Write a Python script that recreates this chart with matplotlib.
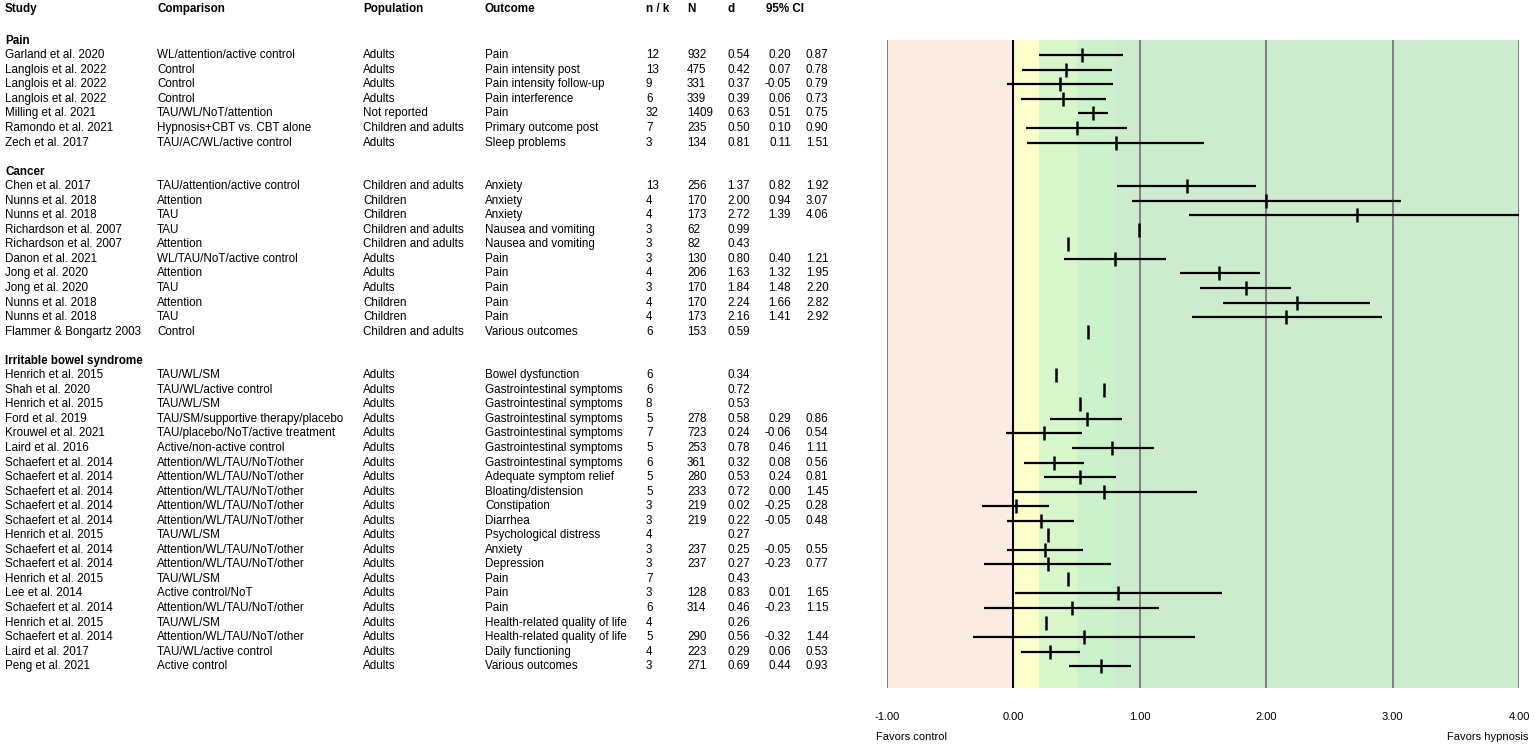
import matplotlib
matplotlib.use("Agg")
import matplotlib.pyplot as plt
import matplotlib.transforms as mtransforms

plt.rcParams.update({
    "font.family": ["Liberation Sans", "DejaVu Sans"],
    "font.size": 8.4,
})

# ---- data -------------------------------------------------------------
sections = ["Pain", "Cancer", "Irritable bowel syndrome"]

pain_rows = [
    ("Garland et al. 2020", "WL/attention/active control", "Adults", "Pain", 12, 932, 0.54, 0.20, 0.87),
    ("Langlois et al. 2022", "Control", "Adults", "Pain intensity post", 13, 475, 0.42, 0.07, 0.78),
    ("Langlois et al. 2022", "Control", "Adults", "Pain intensity follow-up", 9, 331, 0.37, -0.05, 0.79),
    ("Langlois et al. 2022", "Control", "Adults", "Pain interference", 6, 339, 0.39, 0.06, 0.73),
    ("Milling et al. 2021", "TAU/WL/NoT/attention", "Not reported", "Pain", 32, 1409, 0.63, 0.51, 0.75),
    ("Ramondo et al. 2021", "Hypnosis+CBT vs. CBT alone", "Children and adults", "Primary outcome post", 7, 235, 0.50, 0.10, 0.90),
    ("Zech et al. 2017", "TAU/AC/WL/active control", "Adults", "Sleep problems", 3, 134, 0.81, 0.11, 1.51),
]

cancer_rows = [
    ("Chen et al. 2017", "TAU/attention/active control", "Children and adults", "Anxiety", 13, 256, 1.37, 0.82, 1.92),
    ("Nunns et al. 2018", "Attention", "Children", "Anxiety", 4, 170, 2.00, 0.94, 3.07),
    ("Nunns et al. 2018", "TAU", "Children", "Anxiety", 4, 173, 2.72, 1.39, 4.06),
    ("Richardson et al. 2007", "TAU", "Children and adults", "Nausea and vomiting", 3, 62, 0.99, None, None),
    ("Richardson et al. 2007", "Attention", "Children and adults", "Nausea and vomiting", 3, 82, 0.43, None, None),
    ("Danon et al. 2021", "WL/TAU/NoT/active control", "Adults", "Pain", 3, 130, 0.80, 0.40, 1.21),
    ("Jong et al. 2020", "Attention", "Adults", "Pain", 4, 206, 1.63, 1.32, 1.95),
    ("Jong et al. 2020", "TAU", "Adults", "Pain", 3, 170, 1.84, 1.48, 2.20),
    ("Nunns et al. 2018", "Attention", "Children", "Pain", 4, 170, 2.24, 1.66, 2.82),
    ("Nunns et al. 2018", "TAU", "Children", "Pain", 4, 173, 2.16, 1.41, 2.92),
    ("Flammer & Bongartz 2003", "Control", "Children and adults", "Various outcomes", 6, 153, 0.59, None, None),
]

ibs_rows = [
    ("Henrich et al. 2015", "TAU/WL/SM", "Adults", "Bowel dysfunction", 6, None, 0.34, None, None),
    ("Shah et al. 2020", "TAU/WL/active control", "Adults", "Gastrointestinal symptoms", 6, None, 0.72, None, None),
    ("Henrich et al. 2015", "TAU/WL/SM", "Adults", "Gastrointestinal symptoms", 8, None, 0.53, None, None),
    ("Ford et al. 2019", "TAU/SM/supportive therapy/placebo", "Adults", "Gastrointestinal symptoms", 5, 278, 0.58, 0.29, 0.86),
    ("Krouwel et al. 2021", "TAU/placebo/NoT/active treatment", "Adults", "Gastrointestinal symptoms", 7, 723, 0.24, -0.06, 0.54),
    ("Laird et al. 2016", "Active/non-active control", "Adults", "Gastrointestinal symptoms", 5, 253, 0.78, 0.46, 1.11),
    ("Schaefert et al. 2014", "Attention/WL/TAU/NoT/other", "Adults", "Gastrointestinal symptoms", 6, 361, 0.32, 0.08, 0.56),
    ("Schaefert et al. 2014", "Attention/WL/TAU/NoT/other", "Adults", "Adequate symptom relief", 5, 280, 0.53, 0.24, 0.81),
    ("Schaefert et al. 2014", "Attention/WL/TAU/NoT/other", "Adults", "Bloating/distension", 5, 233, 0.72, 0.00, 1.45),
    ("Schaefert et al. 2014", "Attention/WL/TAU/NoT/other", "Adults", "Constipation", 3, 219, 0.02, -0.25, 0.28),
    ("Schaefert et al. 2014", "Attention/WL/TAU/NoT/other", "Adults", "Diarrhea", 3, 219, 0.22, -0.05, 0.48),
    ("Henrich et al. 2015", "TAU/WL/SM", "Adults", "Psychological distress", 4, None, 0.27, None, None),
    ("Schaefert et al. 2014", "Attention/WL/TAU/NoT/other", "Adults", "Anxiety", 3, 237, 0.25, -0.05, 0.55),
    ("Schaefert et al. 2014", "Attention/WL/TAU/NoT/other", "Adults", "Depression", 3, 237, 0.27, -0.23, 0.77),
    ("Henrich et al. 2015", "TAU/WL/SM", "Adults", "Pain", 7, None, 0.43, None, None),
    ("Lee et al. 2014", "Active control/NoT", "Adults", "Pain", 3, 128, 0.83, 0.01, 1.65),
    ("Schaefert et al. 2014", "Attention/WL/TAU/NoT/other", "Adults", "Pain", 6, 314, 0.46, -0.23, 1.15),
    ("Henrich et al. 2015", "TAU/WL/SM", "Adults", "Health-related quality of life", 4, None, 0.26, None, None),
    ("Schaefert et al. 2014", "Attention/WL/TAU/NoT/other", "Adults", "Health-related quality of life", 5, 290, 0.56, -0.32, 1.44),
    ("Laird et al. 2017", "TAU/WL/active control", "Adults", "Daily functioning", 4, 223, 0.29, 0.06, 0.53),
    ("Peng et al. 2021", "Active control", "Adults", "Various outcomes", 3, 271, 0.69, 0.44, 0.93),
]

headers = ["Study", "Comparison", "Population", "Outcome", "n / k", "N", "d", "95% CI"]
xticks = [-1, 0, 1, 2, 3, 4]

# ---- layout -----------------------------------------------------------
W, H = 1535, 747
fig = plt.figure(figsize=(W / 100, H / 100), dpi=100)
ax = fig.add_axes([887 / W, 1 - 688 / H, (1519 - 887) / W, (688 - 40) / H])

# column x positions in pixels (left edges; ci_lo is right aligned)
col_study, col_comp, col_pop, col_out = 5, 157, 363, 485
col_nk, col_n, col_d, col_lo, col_hi = 646, 687, 727, 791, 806

trans = mtransforms.blended_transform_factory(fig.transFigure, ax.transData)


def put(x, y, s, **kw):
    ax.text(x / W, y, s, transform=trans, va="center", clip_on=False, **kw)


def fmt(v):
    return "" if v is None else f"{v:.2f}"


row = 0
plot_rows = []
for name, rows in zip(sections, [pain_rows, cancer_rows, ibs_rows]):
    put(col_study, row, name, fontweight="bold")
    row += 1
    for st, comp, pop, out, nk, n, d, lo, hi in rows:
        put(col_study, row, st)
        put(col_comp, row, comp)
        put(col_pop, row, pop)
        put(col_out, row, out)
        put(col_nk, row, str(nk))
        put(col_n, row, "" if n is None else str(n))
        put(col_d, row, fmt(d))
        put(col_lo, row, fmt(lo), ha="right")
        put(col_hi, row, fmt(hi))
        plot_rows.append((row, d, lo, hi))
        row += 1
    row += 1  # blank line between sections

hx = [col_study, col_comp, col_pop, col_out, col_nk, col_n, col_d, 766]
for x, h in zip(hx, headers):
    put(x, -2.15, h, fontweight="bold")

# background zones
ax.axvspan(-1, 0, color="#fcebe1", lw=0, zorder=0)
ax.axvspan(0, 0.2, color="#ffffcc", lw=0, zorder=0)
ax.axvspan(0.2, 0.5, color="#d8f8cc", lw=0, zorder=0)
ax.axvspan(0.5, 0.8, color="#ccf2cc", lw=0, zorder=0)
ax.axvspan(0.8, 4, color="#cdebcd", lw=0, zorder=0)

for v in [-1, 1, 2, 3, 4]:
    ax.axvline(v, color="#808080", lw=1.4, zorder=1)
ax.axvline(0, color="black", lw=1.5, zorder=2)

for y, d, lo, hi in plot_rows:
    if lo is not None:
        ax.hlines(y, lo, hi, color="black", lw=1.6, zorder=3)
    ax.plot(d, y, marker="|", color="black", ms=10, mew=1.8, zorder=4)

ax.set_xlim(-1, 4)
ax.set_ylim(44.5, -0.05)
ax.set_yticks([])
ax.set_xticks(xticks)
ax.set_xticklabels([f"{t:.2f}" for t in xticks], fontsize=8)
ax.tick_params(axis="x", length=0, pad=17)
for s in ax.spines.values():
    s.set_visible(False)

fig.text(876 / W, 1 - 737 / H, "Favors control", fontsize=8, va="center", ha="left")
fig.text(1528 / W, 1 - 737 / H, "Favors hypnosis", fontsize=8, va="center", ha="right")

fig.savefig("out.png", dpi=100, facecolor="white")
